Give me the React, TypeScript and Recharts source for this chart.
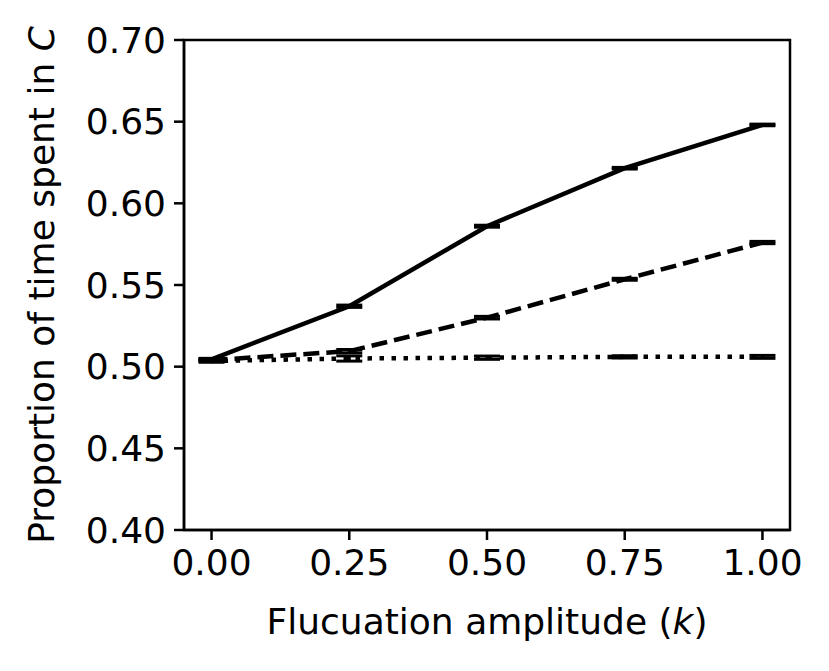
import React from 'react'
import {
  LineChart, Line, XAxis, YAxis, ErrorBar, ReferenceArea, Label
} from 'recharts'

// fluctuation amplitude k
const kValues = [0, 0.25, 0.5, 0.75, 1.0]

// proportion of time spent in C, one list per curve
const solidVals = [0.5045, 0.537, 0.586, 0.6215, 0.648]
const dashedVals = [0.504, 0.5095, 0.530, 0.5535, 0.576]
const dottedVals = [0.5035, 0.505, 0.5055, 0.506, 0.506]

const solidErr = [0.0006, 0.0007, 0.0006, 0.0005, 0.0005]
const dashedErr = [0.0007, 0.0010, 0.0008, 0.0006, 0.0007]
const dottedErr = [0.0008, 0.0016, 0.0010, 0.0007, 0.0009]

const xTicks = [0, 0.25, 0.5, 0.75, 1.0]
const yTicks = [0.4, 0.45, 0.5, 0.55, 0.6, 0.65, 0.7]

const solidData = kValues.map((k, i) => ({ k, v: solidVals[i], e: solidErr[i] }))
const dashedData = kValues.map((k, i) => ({ k, v: dashedVals[i], e: dashedErr[i] }))
const dottedData = kValues.map((k, i) => ({ k, v: dottedVals[i], e: dottedErr[i] }))

const font = 'DejaVu Sans'
const fs = 36
const lw = 2.5

function XLabel(props: any) {
  const vb = props.viewBox
  return (
    <text x={vb.x + vb.width / 2} y={vb.y + 104} textAnchor="middle"
      fontFamily={font} fontSize={fs} fill="black">
      Flucuation amplitude (<tspan fontStyle="italic">k</tspan>)
    </text>
  )
}

function YLabel(props: any) {
  const vb = props.viewBox
  const cx = 54
  const cy = vb.y + vb.height / 2
  return (
    <text x={cx} y={cy} textAnchor="middle" transform={`rotate(-90 ${cx} ${cy})`}
      fontFamily={font} fontSize={fs} fill="black">
      Proportion of time spent in <tspan fontStyle="italic">C</tspan>
    </text>
  )
}

export default function App() {
  return (
    <div style={{ position: 'absolute', left: 0, top: 0, background: 'white' }}>
      <LineChart width={829} height={671} margin={{ top: 40, right: 39, bottom: 0, left: 0 }}>
        <XAxis dataKey="k" type="number" domain={[-0.05, 1.05]} ticks={xTicks}
          allowDuplicatedCategory={false}
          tickFormatter={(v) => v.toFixed(2)} height={141}
          axisLine={{ stroke: 'black', strokeWidth: lw }}
          tickLine={{ stroke: 'black', strokeWidth: lw }} tickSize={10} tickMargin={9}
          tick={{ fill: 'black', fontSize: fs, fontFamily: font }}>
          <Label content={XLabel} />
        </XAxis>
        <YAxis type="number" domain={[0.4, 0.7]} ticks={yTicks} width={184}
          tickFormatter={(v) => v.toFixed(2)} interval={0}
          axisLine={{ stroke: 'black', strokeWidth: lw }}
          tickLine={{ stroke: 'black', strokeWidth: lw }} tickSize={10} tickMargin={8}
          tick={{ fill: 'black', fontSize: fs, fontFamily: font }}>
          <Label content={YLabel} />
        </YAxis>
        <ReferenceArea x1={-0.05} x2={1.05} y1={0.4} y2={0.7} fill="none"
          stroke="black" strokeWidth={lw} ifOverflow="visible" />
        <Line data={dottedData} dataKey="v" stroke="black" strokeWidth={4.5}
          strokeDasharray="4.5 7.5" dot={false} isAnimationActive={false}>
          <ErrorBar dataKey="e" width={13} strokeWidth={3} stroke="black" direction="y" />
        </Line>
        <Line data={dashedData} dataKey="v" stroke="black" strokeWidth={4.5}
          strokeDasharray="16 7" dot={false} isAnimationActive={false}>
          <ErrorBar dataKey="e" width={13} strokeWidth={3} stroke="black" direction="y" />
        </Line>
        <Line data={solidData} dataKey="v" stroke="black" strokeWidth={4.5}
          dot={false} isAnimationActive={false}>
          <ErrorBar dataKey="e" width={13} strokeWidth={3} stroke="black" direction="y" />
        </Line>
      </LineChart>
    </div>
  )
}
